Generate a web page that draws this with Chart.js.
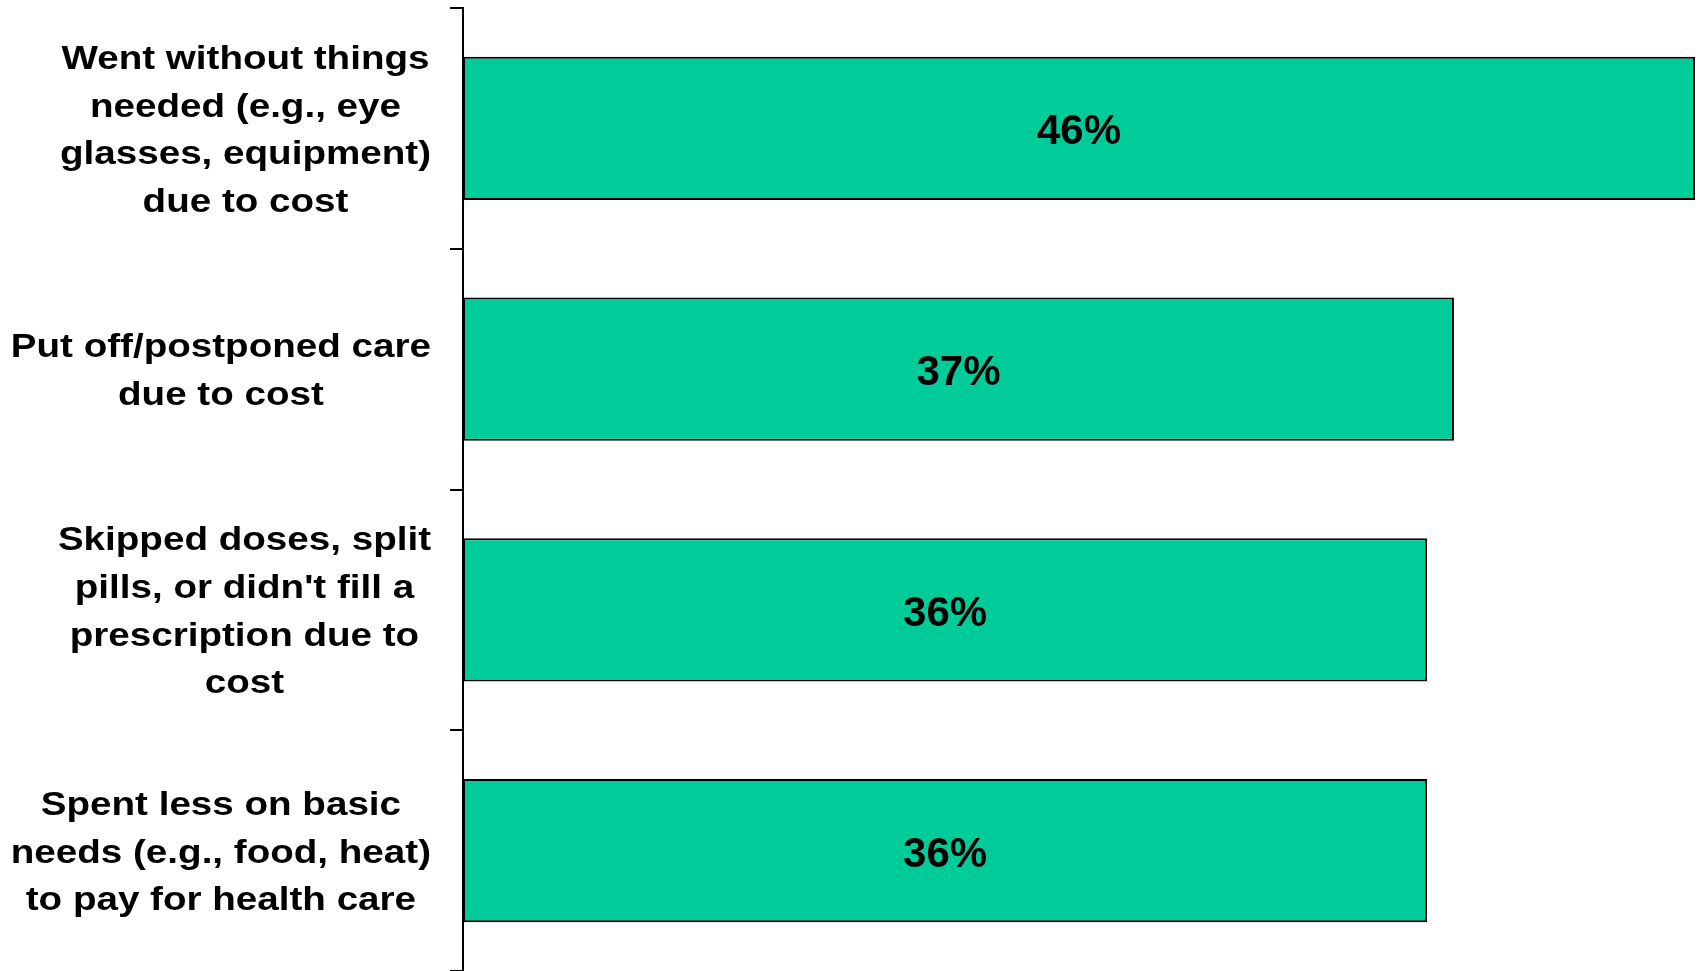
<!DOCTYPE html>
<html lang="en">
<head>
    <meta charset="UTF-8">
    <title>Cost-related problems</title>
    <script src="https://cdn.jsdelivr.net/npm/chart.js"></script>
    <style>
        html, body {
            margin: 0;
            padding: 0;
            background: #fff;
        }
        #wrap {
            width: 1700px;
            height: 971px;
        }
    </style>
</head>
<body>
    <div id="wrap"><canvas id="chart"></canvas></div>

    <script>
        const categories = [
            ["Went without things", "needed (e.g., eye", "glasses, equipment)", "due to cost"],
            ["Put off/postponed care", "due to cost"],
            ["Skipped doses, split", "pills, or didn't fill a", "prescription due to", "cost"],
            ["Spent less on basic", "needs (e.g., food, heat)", "to pay for health care"]
        ];
        const values = [46, 37, 36, 36];

        const FONT = '"Liberation Sans", Arial, sans-serif';

        // category labels: block right-aligned, each line centred in its block
        // (the original type is a little wide, so it is stretched sideways)
        const labelPlugin = {
            id: "labels",
            afterDraw(chart) {
                const ctx = chart.ctx;
                const y = chart.scales.y;
                const right = y.right - 13 - 19;
                const sx = 1.135;
                const lh = 47.7;
                ctx.save();
                ctx.font = "bold 34px " + FONT;
                ctx.fillStyle = "#000";
                ctx.textAlign = "center";
                ctx.textBaseline = "alphabetic";
                categories.forEach((lines, i) => {
                    const widest = Math.max(...lines.map(l => ctx.measureText(l).width)) * sx;
                    const cx = right - widest / 2;
                    const cy = y.getPixelForTick(i);
                    lines.forEach((l, j) => {
                        ctx.save();
                        ctx.translate(cx, cy + (j - (lines.length - 1) / 2) * lh + 12);
                        ctx.scale(sx, 1);
                        ctx.fillText(l, 0, 0);
                        ctx.restore();
                    });
                });

                // value labels inside bars
                ctx.font = "bold 42px " + FONT;
                const meta = chart.getDatasetMeta(0);
                meta.data.forEach((bar, i) => {
                    ctx.fillText(values[i] + "%", (bar.x + bar.base) / 2, bar.y + 16);
                });
                ctx.restore();
            }
        };

        new Chart(document.getElementById("chart"), {
            type: "bar",
            data: {
                labels: categories,
                datasets: [{
                    data: values,
                    backgroundColor: "#00CC99",
                    borderColor: "#000",
                    borderWidth: 2,
                    borderSkipped: false,
                    categoryPercentage: 1,
                    barPercentage: 0.595
                }]
            },
            options: {
                indexAxis: "y",
                responsive: true,
                maintainAspectRatio: false,
                animation: false,
                layout: { padding: { top: 8, right: 5, bottom: 0, left: 0 } },
                plugins: {
                    legend: { display: false },
                    tooltip: { enabled: false }
                },
                scales: {
                    x: {
                        display: false,
                        min: 0,
                        max: 46
                    },
                    y: {
                        afterFit(scale) { scale.width = 463; },
                        ticks: { display: false },
                        grid: {
                            offset: true,
                            drawOnChartArea: false,
                            drawTicks: true,
                            tickLength: 13,
                            color: "#000",
                            lineWidth: 2
                        },
                        border: { display: true, color: "#000", width: 2 }
                    }
                }
            },
            plugins: [labelPlugin]
        });
    </script>
</body>
</html>
